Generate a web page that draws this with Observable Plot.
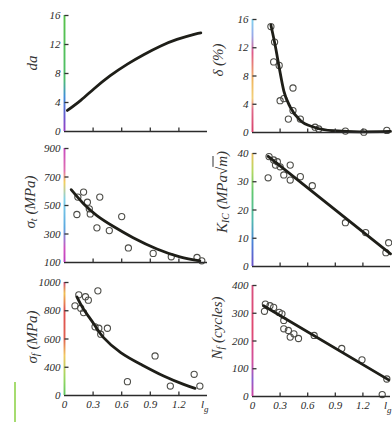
<!DOCTYPE html>
<html><head><meta charset="utf-8">
<script src="https://cdn.jsdelivr.net/npm/d3@7"></script>
<script src="https://cdn.jsdelivr.net/npm/@observablehq/plot@0.6"></script>
<style>
html,body{margin:0;padding:0;background:#fff;overflow:hidden;}
#root{position:relative;width:392px;height:422px;background:#fff;overflow:hidden;}
.panel{position:absolute;}
.ytitle{position:absolute;font-family:"Liberation Serif",serif;font-style:italic;font-size:15px;color:#333;white-space:nowrap;line-height:1;transform:translate(-50%,-50%) rotate(-90deg);}
.ytitle sub{font-size:10px;vertical-align:-2px;line-height:0;}
.artifact{position:absolute;left:14px;top:382px;width:2px;height:40px;background:#a6dc70;}
</style></head><body><div id="root"><div class="artifact"></div></div><script>
// ---- shared x axis ----
const xTicks = [0, 0.3, 0.6, 0.9, 1.2, 1.5];
const xTickLabels = ["0", "0.3", "0.6", "0.9", "1.2", "lg"];

// ---- panel 1: da ----
const daTicks = [0, 4, 8, 12, 16];
const daTickLabels = ["0", "4", "8", "12", "16"];
const daCurveX = [0.03, 0.17, 0.31, 0.48, 0.66, 0.83, 1.01, 1.18, 1.36, 1.43];
const daCurveY = [2.9, 4.3, 5.9, 7.7, 9.3, 10.6, 11.8, 12.7, 13.4, 13.6];

// ---- panel 2: delta (%) ----
const deltaTicks = [0, 4, 8, 12, 16];
const deltaTickLabels = ["0", "4", "8", "12", "16"];
const deltaPtsX = [0.20, 0.24, 0.23, 0.29, 0.44, 0.30, 0.34, 0.39, 0.44, 0.52, 0.68, 0.72, 1.01, 1.21, 1.46];
const deltaPtsY = [15.0, 12.8, 10.0, 9.5, 6.3, 4.5, 4.8, 1.9, 3.1, 1.9, 0.75, 0.5, 0.2, 0.05, 0.3];
const deltaCurveX = [0.2, 0.25, 0.29, 0.34, 0.41, 0.52, 0.67, 0.88, 1.17, 1.5];
const deltaCurveY = [15.2, 12.1, 9.2, 5.9, 3.6, 1.7, 0.75, 0.25, 0.1, 0.15];

// ---- panel 3: sigma_t (MPa) ----
const stTicks = [100, 300, 500, 700, 900];
const stTickLabels = ["100", "300", "500", "700", "900"];
const stPtsX = [0.20, 0.14, 0.24, 0.37, 0.13, 0.26, 0.27, 0.60, 0.34, 0.47, 0.67, 0.93, 1.12, 1.39, 1.44];
const stPtsY = [594, 559, 523, 559, 437, 477, 441, 422, 343, 324, 202, 164, 140, 135, 112];
const stCurveX = [0.07, 0.2, 0.34, 0.51, 0.72, 0.97, 1.21, 1.42];
const stCurveY = [611, 512, 429, 354, 274, 195, 140, 112];

// ---- panel 4: K_IC (MPa·m^1/2) ----
const kTicks = [0, 10, 20, 30, 40];
const kTickLabels = ["0", "10", "20", "30", "40"];
const kPtsX = [0.18, 0.23, 0.27, 0.25, 0.30, 0.41, 0.17, 0.34, 0.41, 0.52, 0.65, 1.01, 1.23, 1.48, 1.45];
const kPtsY = [38.9, 37.7, 37.1, 35.9, 35.3, 35.9, 31.4, 32.4, 30.6, 31.8, 28.6, 15.5, 12.0, 8.4, 4.9];
const kLineX = [0.17, 1.5];
const kLineY = [39, 4.5];

// ---- panel 5: sigma_f (MPa) ----
const sfTicks = [200, 400, 600, 800, 1000];
const sfTickLabels = ["0", "400", "600", "800", "1000"];
const sfPtsX = [0.15, 0.22, 0.25, 0.35, 0.11, 0.17, 0.20, 0.32, 0.36, 0.45, 0.38, 0.95, 0.66, 1.11, 1.36, 1.42];
const sfPtsY = [913, 899, 875, 941, 835, 818, 787, 686, 676, 676, 634, 480, 298, 267, 350, 267];
const sfCurveX = [0.13, 0.2, 0.31, 0.41, 0.59, 0.8, 1.04, 1.25, 1.37];
const sfCurveY = [898, 811, 705, 610, 504, 421, 338, 279, 251];

// ---- panel 6: N_f (cycles) ----
const nTicks = [0, 100, 200, 300, 400];
const nTickLabels = ["0", "100", "200", "300", "400"];
const nPtsX = [0.14, 0.19, 0.23, 0.13, 0.29, 0.32, 0.34, 0.34, 0.39, 0.45, 0.50, 0.41, 0.67, 0.97, 1.19, 1.46, 1.41];
const nPtsY = [333, 327, 321, 307, 303, 298, 274, 244, 238, 226, 209, 214, 220, 173, 132, 63, 7];
const nLineX = [0.12, 1.48];
const nLineY = [327, 60];

// ---------------------------------------------------------------
const root = document.getElementById("root");
const ns = "http://www.w3.org/2000/svg";
const yTickSym = {draw(ctx) { ctx.moveTo(0, 0); ctx.lineTo(4, 0); }};
const xTickSym = {draw(ctx) { ctx.moveTo(0, 0); ctx.lineTo(0, -4); }};

function panel(o) {
  const pts = o.ptsX ? o.ptsX.map((x, i) => ({x, y: o.ptsY[i]})) : [];
  const line = o.curveX.map((x, i) => ({x, y: o.curveY[i]}));
  const yFmt = d => o.yLabels[o.yTicks.indexOf(d)];
  const marks = [
    Plot.dot(pts, {x: "x", y: "y", r: 3.1, stroke: "#4d4d48", strokeWidth: 1.1, fill: "none"}),
    Plot.line(line, {x: "x", y: "y", curve: o.curve, stroke: "#1e1e18", strokeWidth: 2.8}),
    Plot.ruleY([o.yDomain[0]], {stroke: "#2b2b2b", strokeWidth: 1.6}),
    Plot.ruleX([0], {stroke: `url(#${o.id})`, strokeWidth: 1.9}),
    Plot.dot(o.yTicks.slice(1), {x: () => 0, y: d => d, symbol: yTickSym, stroke: "#333", strokeWidth: 1.3, fill: "none"}),
    Plot.dot(xTicks.slice(1, 5), {x: d => d, y: () => o.yDomain[0], symbol: xTickSym, stroke: "#333", strokeWidth: 1.3, fill: "none"}),
    Plot.axisY({ticks: o.yTicks, tickSize: 0, tickPadding: 4, tickFormat: yFmt, label: null})
  ];
  if (o.showX) marks.push(Plot.axisX({ticks: xTicks, tickSize: 0, tickPadding: 5, tickFormat: d => xTickLabels[xTicks.indexOf(d)], label: null}));
  const xOpts = {domain: [0, 1.5], label: null};
  if (!o.showX) xOpts.axis = null;
  const svg = Plot.plot({
    width: o.width, height: o.height,
    marginLeft: o.mL, marginRight: o.mR, marginTop: o.mT, marginBottom: o.mB,
    x: xOpts,
    y: {domain: o.yDomain, label: null},
    style: {background: "transparent", fontFamily: "'Liberation Serif', serif", fontSize: "11px", fontStyle: "italic", color: "#2a2a2a", overflow: "visible"},
    marks
  });
  // gradient for the (scanned, colour-fringed) y axis line
  const defs = document.createElementNS(ns, "defs");
  const g = document.createElementNS(ns, "linearGradient");
  g.setAttribute("id", o.id);
  g.setAttribute("gradientUnits", "userSpaceOnUse");
  g.setAttribute("x1", 0); g.setAttribute("x2", 0);
  g.setAttribute("y1", o.mT); g.setAttribute("y2", o.height - o.mB);
  o.stops.forEach(([off, c]) => {
    const s = document.createElementNS(ns, "stop");
    s.setAttribute("offset", off); s.setAttribute("stop-color", c);
    g.appendChild(s);
  });
  defs.appendChild(g);
  svg.insertBefore(defs, svg.firstChild);
  // subscript g in the last x label, kept inside the picture
  svg.querySelectorAll("text").forEach(t => {
    if (t.textContent === "lg") {
      t.textContent = "l";
      t.setAttribute("text-anchor", "end");
      t.setAttribute("dx", "1");
      const ts = document.createElementNS(ns, "tspan");
      ts.setAttribute("dy", "4"); ts.setAttribute("font-size", "9");
      ts.textContent = "g";
      t.appendChild(ts);
    }
  });
  const div = document.createElement("div");
  div.className = "panel";
  div.style.left = o.left + "px"; div.style.top = o.top + "px";
  div.appendChild(svg);
  root.appendChild(div);
}

function title(html, cx, cy) {
  const d = document.createElement("div");
  d.className = "ytitle";
  d.innerHTML = html;
  d.style.left = cx + "px"; d.style.top = cy + "px";
  root.appendChild(d);
}

const L = {left: 0, width: 215, mL: 64, mR: 8};
const R = {left: 200, width: 192, mL: 52, mR: 2};

panel({...L, top: 0, height: 140, mT: 15, mB: 9, id: "g1", yDomain: [0, 16], yTicks: daTicks, yLabels: daTickLabels,
  curveX: daCurveX, curveY: daCurveY, curve: "natural",
  stops: [[0, "#58c24a"], [0.55, "#4fbf6a"], [0.7, "#3f8fd8"], [0.88, "#6a5ad0"], [1, "#9a3fc4"]]});
panel({...R, top: 0, height: 140, mT: 19, mB: 8, id: "g2", yDomain: [0, 16], yTicks: deltaTicks, yLabels: deltaTickLabels,
  ptsX: deltaPtsX, ptsY: deltaPtsY, curveX: deltaCurveX, curveY: deltaCurveY, curve: "monotone-x",
  stops: [[0, "#7fd3f0"], [0.15, "#9aa8e8"], [0.3, "#e05a8a"], [0.55, "#f0b860"], [0.7, "#f2d07a"], [0.8, "#e06a8a"], [1, "#d8406a"]]});
panel({...L, top: 140, height: 130, mT: 8, mB: 8, id: "g3", yDomain: [100, 900], yTicks: stTicks, yLabels: stTickLabels,
  ptsX: stPtsX, ptsY: stPtsY, curveX: stCurveX, curveY: stCurveY, curve: "natural",
  stops: [[0, "#c84bc0"], [0.2, "#e070b0"], [0.3, "#f3cf5a"], [0.45, "#7fd0e8"], [0.7, "#5aa8e0"], [0.88, "#d050c0"], [1, "#c040c0"]]});
panel({...R, top: 140, height: 130, mT: 13, mB: 4, id: "g4", yDomain: [0, 40], yTicks: kTicks, yLabels: kTickLabels,
  ptsX: kPtsX, ptsY: kPtsY, curveX: kLineX, curveY: kLineY, curve: "linear",
  stops: [[0, "#f0c060"], [0.15, "#b8d860"], [0.35, "#60c870"], [0.6, "#50b8b0"], [0.8, "#4a80d8"], [1, "#6a50c8"]]});
panel({...L, top: 270, height: 152, mT: 12, mB: 27, id: "g5", yDomain: [200, 1000], yTicks: sfTicks, yLabels: sfTickLabels,
  ptsX: sfPtsX, ptsY: sfPtsY, curveX: sfCurveX, curveY: sfCurveY, curve: "natural", showX: true,
  stops: [[0, "#d04a7a"], [0.1, "#f0c050"], [0.25, "#e05050"], [0.5, "#e06050"], [0.65, "#f2c860"], [0.85, "#9ad860"], [1, "#60c860"]]});
panel({...R, top: 270, height: 152, mT: 15, mB: 26, id: "g6", yDomain: [0, 400], yTicks: nTicks, yLabels: nTickLabels,
  ptsX: nPtsX, ptsY: nPtsY, curveX: nLineX, curveY: nLineY, curve: "linear", showX: true,
  stops: [[0, "#d85080"], [0.4, "#e04870"], [0.7, "#d050a0"], [0.85, "#8a60d0"], [1, "#d040a0"]]});

title("da", 32, 63);
title("δ (%)", 218, 60);
title("σ<sub>t</sub> (MPa)", 30, 202);
title("K<sub>IC</sub> (MPa√<span style=\"text-decoration:overline\">m</span>)", 222, 192);
title("σ<sub>f</sub> (MPa)", 32, 337);
title("N<sub>f</sub> (cycles)", 217, 328);
</script></body></html>
